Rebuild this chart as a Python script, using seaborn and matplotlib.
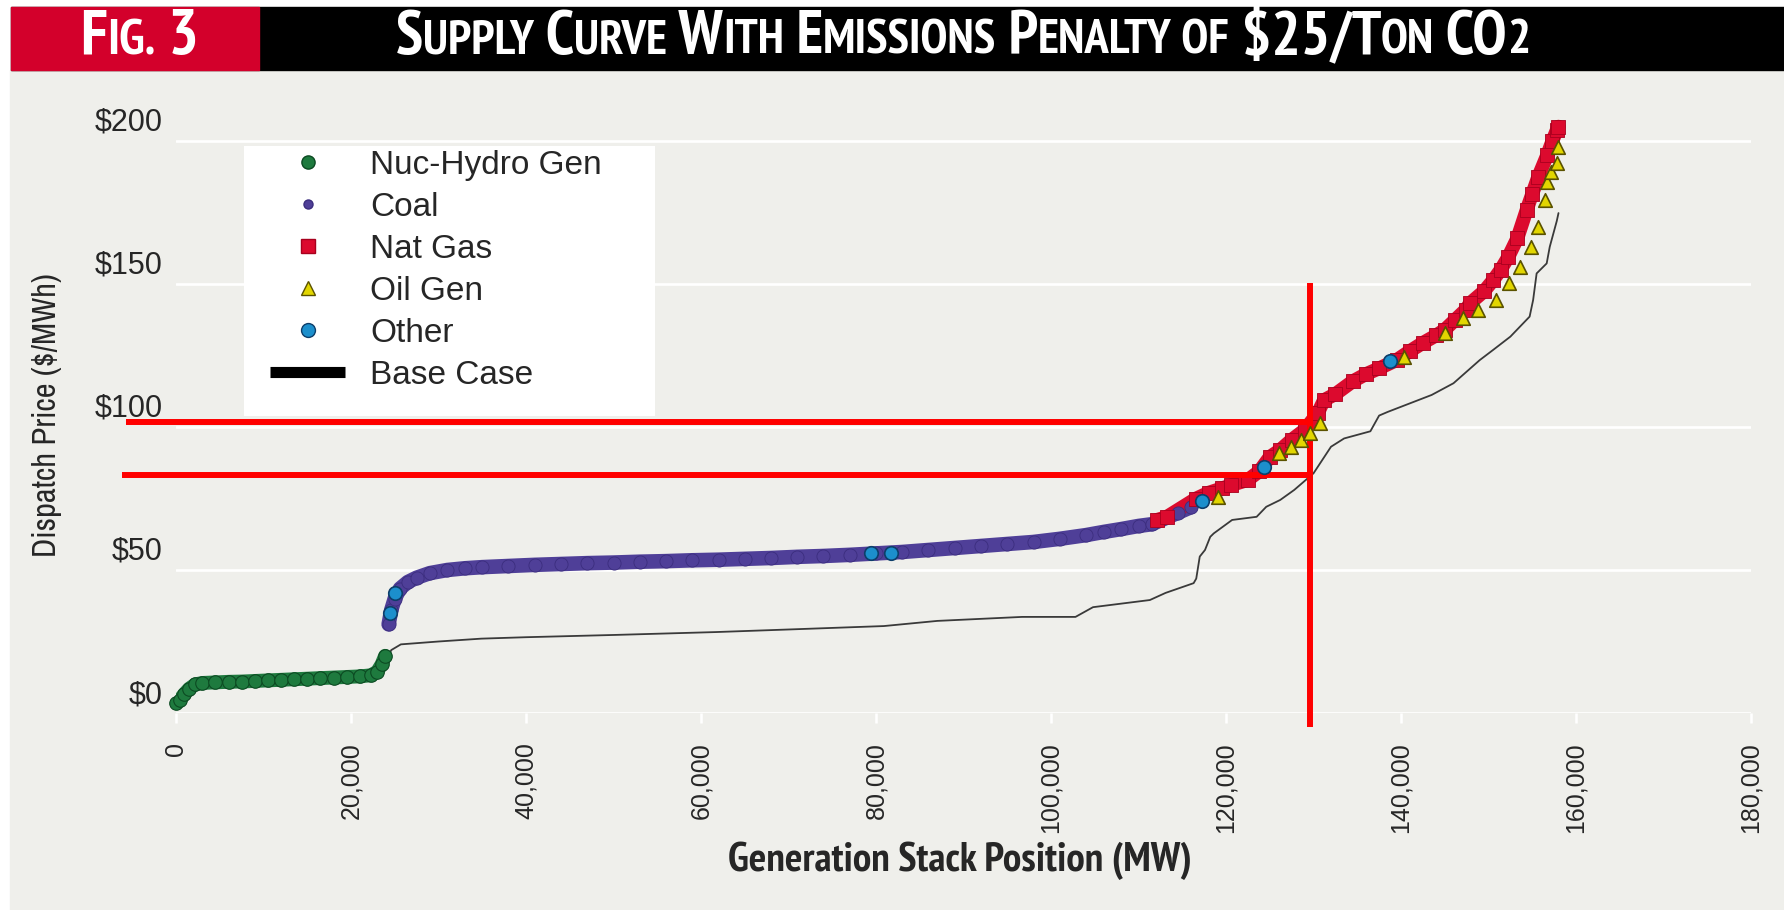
import os
import matplotlib
matplotlib.use("Agg")
import matplotlib.pyplot as plt
import matplotlib.transforms as mtransforms
from matplotlib import font_manager as fm
from matplotlib.lines import Line2D
from matplotlib.patches import Rectangle
from matplotlib.text import Annotation
import seaborn as sns

# ---- data (MW, $/MWh) ----
nuc_x = [0, 400, 900, 1500, 2200, 3000, 4500, 6000, 7500, 9000, 10500, 12000, 13500,
         15000, 16500, 18000, 19500, 21000, 22300, 23000, 23500, 23900]
nuc_y = [3.5, 4.5, 6.5, 8.5, 10.0, 10.5, 10.7, 10.9, 11.0, 11.2, 11.4, 11.6, 11.8,
         12.0, 12.2, 12.4, 12.6, 12.8, 13.2, 14.5, 17.0, 20.0]

coal_x = [24300, 24600, 25000, 25600, 26500, 27500, 29000, 31000, 33000, 35000, 38000,
          41000, 44000, 47000, 50000, 53000, 56000, 59000, 62000, 65000, 68000, 71000,
          74000, 77000, 80000, 83000, 86000, 89000, 92000, 95000, 98000, 101000, 104000,
          106000, 108000, 110000, 111500, 114500, 116000]
coal_y = [31.0, 36.0, 40.0, 43.5, 45.8, 47.3, 48.9, 50.0, 50.6, 51.0, 51.4,
          51.8, 52.1, 52.4, 52.6, 52.9, 53.1, 53.4, 53.6, 53.9, 54.2, 54.6,
          54.9, 55.3, 55.8, 56.3, 57.0, 57.7, 58.4, 59.1, 59.8, 60.9, 62.2,
          63.3, 64.3, 65.4, 66.0, 70.0, 72.0]

gas_x = [112100, 113200, 116600, 118000, 119500, 120600, 122500, 123800, 125000, 126200,
         127500, 129000, 130500, 131200, 132500, 134500, 136000, 137500, 139500, 141000,
         142500, 144000, 145000, 146200, 147400, 147900, 149500, 150550, 151400, 152270,
         153300, 154360, 155000, 155690, 156700, 157300, 157800, 158000]
gas_y = [67.5, 68.5, 75.0, 77.0, 78.5, 79.7, 81.5, 84.5, 89.5, 92.0,
         95.5, 99.0, 104.9, 109.4, 111.5, 116.0, 118.5, 120.5, 123.4, 126.5,
         129.4, 132.0, 134.0, 137.5, 141.0, 143.3, 147.5, 151.4, 155.0, 159.5,
         166.0, 175.9, 181.5, 187.5, 195.0, 200.0, 203.8, 205.0]

oil_x = [119100, 126100, 127400, 128600, 129600, 130800, 140400, 145000, 147100, 148800,
         150900, 152300, 153600, 154900, 155700, 156500, 156700, 157200, 157800, 157900]
oil_y = [75.5, 91.0, 93.0, 95.5, 98.0, 101.4, 124.5, 132.8, 138.0, 141.0,
         144.4, 150.2, 156.0, 163.0, 170.0, 179.4, 185.8, 189.0, 192.2, 198.0]

other_x = [24400, 25000, 79400, 81700, 117300, 124300, 138800]
other_y = [35.0, 42.0, 56.0, 56.0, 74.0, 86.0, 123.0]

base_x = [0, 1000, 2000, 3000, 5000, 10000, 15000, 20000, 22500, 23500,
          24000, 24600, 25700, 30000, 34900, 40000, 50200, 61700, 70000, 80900,
          87000, 96700, 102800, 104800, 111300, 113100, 116300, 116600, 117000, 117600,
          118200, 118600, 120700, 123500, 124600, 126200, 127800, 130000, 132000, 133500,
          136500, 137500, 138500, 143500, 146000, 149000, 150550, 152500, 154700, 155100,
          155500, 156650, 157000, 157800, 158000]
base_y = [3.5, 6.0, 9.5, 10.5, 10.8, 11.4, 12.0, 12.6, 13.2, 15.0,
          18.0, 22.0, 24.0, 25.0, 26.0, 26.5, 27.3, 28.3, 29.2, 30.4,
          32.2, 33.6, 33.6, 37.0, 39.5, 42.0, 45.4, 47.0, 54.7, 57.0,
          61.6, 62.8, 67.5, 68.6, 72.1, 74.5, 78.0, 83.8, 93.1, 96.0,
          98.5, 104.0, 105.3, 111.2, 115.3, 123.4, 127.0, 131.6, 138.6, 144.4,
          153.7, 157.2, 163.0, 172.0, 174.8]

# red marker lines drawn on the figure
mark_x = 129600
mark_prices = [101.9, 83.2]
mark_left = [-5700, -6200]
mark_vert = [-4.9, 150.3]

x_ticks = [0, 20000, 40000, 60000, 80000, 100000, 120000, 140000, 160000, 180000]
y_ticks = [0, 50, 100, 150, 200]
series_labels = ["Nuc-Hydro Gen", "Coal", "Nat Gas", "Oil Gen", "Other", "Base Case"]

# colours
bg = "#efefeb"
c_nuc, c_nuc_e = "#1e7a3e", "#0c4a22"
c_coal, c_coal_e = "#4f3f98", "#3b2d7e"
c_gas, c_gas_e = "#dc0a2e", "#a8001e"
c_oil, c_oil_e = "#e2d600", "#5a5200"
c_oth, c_oth_e = "#1c8fcc", "#0d3e6a"

sns.set_theme(style="white")
plt.rcParams["font.family"] = ["Liberation Sans", "DejaVu Sans"]


def find_font(keys, avoid=()):
    for f in fm.fontManager.ttflist:
        name = os.path.basename(f.fname).lower()
        if all(k in name for k in keys) and not any(a in name for a in avoid):
            return f.fname
    return None


bold_c = (find_font(["narrow", "bold"], ["italic"]) or find_font(["condensed", "bold"], ["oblique", "italic"]))
reg_c = (find_font(["narrow"], ["bold", "italic"]) or find_font(["condensed"], ["bold", "oblique", "italic"]))


def fprops(fname, size, bold=False):
    if fname:
        return fm.FontProperties(fname=fname, size=size)
    return fm.FontProperties(family="Liberation Sans", weight="bold" if bold else "normal", size=size)


W, H = 1784, 910
fig = plt.figure(figsize=(W / 100, H / 100), dpi=100)
fig.patch.set_facecolor("white")
fig.add_artist(Rectangle((10 / W, 0), 1, 840 / H, transform=fig.transFigure,
                         color=bg, zorder=-10))
fig.add_artist(Rectangle((11 / W, 840 / H), 1, 63 / H, transform=fig.transFigure,
                         color="black", zorder=-9))
fig.add_artist(Rectangle((11 / W, 840 / H), 248 / W, 63 / H, transform=fig.transFigure,
                         color="#d3002b", zorder=-8))
renderer = fig.canvas.get_renderer()


def small_caps(x, y, parts, big, small):
    # chain pieces of text, big and small capitals, on one baseline
    arts = []
    prev, prev_size = None, None
    for txt, is_big in parts:
        size = big if is_big else small
        fp = fprops(bold_c, size, bold=True)
        if prev is None:
            a = fig.text(x, y, txt, fontproperties=fp, color="white", va="baseline", ha="left")
        else:
            a = Annotation(txt, xy=(1, 0), xycoords=prev, xytext=(0, 0.21 * (prev_size - size)),
                           textcoords="offset points", fontproperties=fp, color="white",
                           va="bottom", ha="left")
            fig.add_artist(a)
        arts.append(a)
        prev, prev_size = a, size
    return arts


def fitted_caps(x, y, parts, big, small, width_px):
    arts = small_caps(x, y, parts, big, small)
    x0 = arts[0].get_window_extent(renderer).x0
    x1 = arts[-1].get_window_extent(renderer).x1
    k = width_px / (x1 - x0)
    for a in arts:
        a.remove()
    return small_caps(x, y, parts, big * k, small * k)


fitted_caps(80 / W, (H - 54) / H, [("F", 1), ("IG.", 0), (" 3", 1)], 33, 26, 119)
fitted_caps(396 / W, (H - 54) / H,
            [("S", 1), ("UPPLY", 0), (" C", 1), ("URVE", 0), (" W", 1), ("ITH", 0),
             (" E", 1), ("MISSIONS", 0), (" P", 1), ("ENALTY", 0), (" OF", 0),
             (" $25/T", 1), ("ON", 0), (" CO", 1), ("2", 0)], 33, 26, 1134)

ax = fig.add_axes([176 / W, 197 / H, 1575 / W, 600.6 / H])
ax.set_facecolor(bg)
ax.set_xlim(0, 180000)
ax.set_ylim(0, 210)
for s in ax.spines.values():
    s.set_visible(False)

# base case line first, then the dispatch stack
sns.lineplot(x=base_x, y=base_y, color="#3a3a3a", lw=1.3, estimator=None, sort=False,
             ax=ax, zorder=2)
for xs, ys, col, lw in [(nuc_x, nuc_y, c_nuc, 10), (coal_x, coal_y, c_coal, 10.5),
                        (gas_x, gas_y, c_gas, 10)]:
    sns.lineplot(x=xs, y=ys, color=col, lw=lw, solid_capstyle="round",
                 estimator=None, sort=False, ax=ax, zorder=3)

sns.scatterplot(x=nuc_x, y=nuc_y, color=c_nuc, edgecolor=c_nuc_e, linewidth=0.8,
                s=95, marker="o", ax=ax, zorder=4, clip_on=False)
sns.scatterplot(x=coal_x, y=coal_y, color=c_coal, edgecolor=c_coal_e, linewidth=0.6,
                s=90, marker="o", ax=ax, zorder=4)
sns.scatterplot(x=gas_x, y=gas_y, color=c_gas, edgecolor=c_gas_e, linewidth=0.6,
                s=105, marker="s", ax=ax, zorder=5)

# red reference lines
for p, x0 in zip(mark_prices, mark_left):
    ax.plot([x0, mark_x], [p, p], color="#ff0000", lw=4.3, clip_on=False,
            solid_capstyle="butt", zorder=5.5)
ax.plot([mark_x, mark_x], mark_vert, color="#ff0000", lw=4.3, clip_on=False,
        solid_capstyle="butt", zorder=5.5)

sns.scatterplot(x=oil_x, y=oil_y, color=c_oil, edgecolor=c_oil_e, linewidth=1.2,
                s=95, marker="^", ax=ax, zorder=6)
sns.scatterplot(x=other_x, y=other_y, color=c_oth, edgecolor=c_oth_e, linewidth=1.2,
                s=95, marker="o", ax=ax, zorder=6)

# grid and ticks
ax.set_yticks(y_ticks)
ax.set_yticklabels([])
ax.yaxis.grid(True, color="white", lw=1.9)
ax.xaxis.grid(False)
ax.tick_params(axis="y", length=0)
ax.set_axisbelow(True)
off = mtransforms.ScaledTranslation(0, 0.18, fig.dpi_scale_trans)
ytr = ax.get_yaxis_transform() + off
for v in y_ticks:
    ax.text(-0.0083, v, f"${v}", transform=ytr, ha="right", va="center", fontsize=22)

ax.set_xticks(x_ticks)
ax.set_xticklabels([f"{v:,}" for v in x_ticks], rotation=90, fontsize=18)
ax.tick_params(axis="x", direction="out", length=7.2, width=1.8, color="white",
               pad=14, bottom=True)

# axis titles, sized to the reference widths
xl = ax.set_xlabel("Generation Stack Position (MW)", fontproperties=fprops(bold_c, 23, True),
                   va="center")
yl = ax.set_ylabel("Dispatch Price ($/MWh)", fontproperties=fprops(reg_c, 24), va="center")
ax.xaxis.set_label_coords(0.4978, -0.2464)
ax.yaxis.set_label_coords(-0.0819, 0.496)
wx = xl.get_window_extent(renderer).width
xl.set_fontsize(23 * 462 / wx)
hy = yl.get_window_extent(renderer).height
yl.set_fontsize(24 * 284 / hy)

# legend on a white box
ax.add_patch(Rectangle((0.0432, 0.4945), 0.261, 0.4496, transform=ax.transAxes,
                       facecolor="white", edgecolor="none", zorder=7))
handles = [
    Line2D([], [], ls="", marker="o", ms=9.5, color=c_nuc, mec=c_nuc_e),
    Line2D([], [], ls="", marker="o", ms=6.5, color=c_coal, mec=c_coal_e),
    Line2D([], [], ls="", marker="s", ms=9.5, color=c_gas, mec=c_gas_e),
    Line2D([], [], ls="", marker="^", ms=10.5, color=c_oil, mec=c_oil_e),
    Line2D([], [], ls="", marker="o", ms=10, color=c_oth, mec=c_oth_e),
    Line2D([], [], color="black", lw=8, solid_capstyle="butt"),
]
leg = ax.legend(handles=handles, labels=series_labels, loc="upper left",
                bbox_to_anchor=(0.0597, 0.938), frameon=False, fontsize=24,
                handlelength=2.25, handletextpad=0.75, labelspacing=0.33,
                borderpad=0, borderaxespad=0)
leg.set_zorder(8)

fig.savefig("out.png", dpi=100, facecolor=fig.get_facecolor())
